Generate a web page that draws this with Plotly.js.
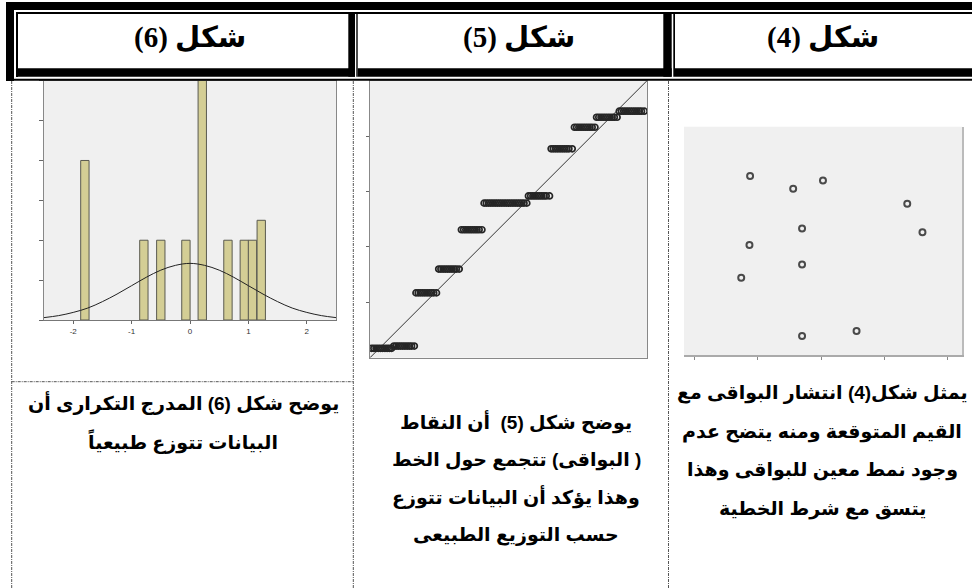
<!DOCTYPE html>
<html><head><meta charset="utf-8">
<script src="https://cdn.plot.ly/plotly-3.0.1.min.js"></script>
<style>html,body{margin:0;padding:0;background:#fff;} #chart{width:972px;height:588px;}</style>
</head><body><div id="chart"></div>
<script>
// ---------- Data: Figure 6 (histogram of residuals) ----------
const histCenters = [-1.80, -0.79, -0.50, -0.07, 0.21, 0.65, 0.93, 1.07, 1.22];
const histCounts  = [4, 2, 2, 2, 7, 2, 2, 2, 2.5];
const histBinWidth = 0.143;
const normalX = [-2.5,-2.25,-2,-1.75,-1.5,-1.25,-1,-0.75,-0.5,-0.25,0,0.25,0.5,0.75,1,1.25,1.5,1.75,2,2.25,2.5];
const normalY = [0.06,0.11,0.19,0.30,0.46,0.65,0.86,1.07,1.25,1.37,1.42,1.37,1.25,1.07,0.86,0.65,0.46,0.30,0.19,0.11,0.06];
const histTickVals = [-2, -1, 0, 1, 2];
const histTickText = ['-2', '-1', '0', '1', '2'];

// ---------- Data: Figure 5 (normal P-P / Q-Q plot) ----------
const qqRunY = [0.17, 0.21, 1.17, 1.60, 2.31, 2.79, 2.92, 3.77, 4.16, 4.34, 4.45];
const qqRunX = [
  [0.03,0.07,0.11,0.15,0.19,0.23,0.27,0.31,0.35,0.39],
  [0.43,0.47,0.51,0.55,0.59,0.63,0.67,0.71,0.75,0.80],
  [0.83,0.87,0.91,0.95,0.99,1.03,1.07,1.11,1.15,1.20],
  [1.24,1.28,1.32,1.36,1.40,1.44,1.48,1.52,1.56,1.61],
  [1.65,1.69,1.73,1.77,1.81,1.85,1.89,1.93,1.97,2.02],
  [2.06,2.10,2.14,2.18,2.22,2.26,2.30,2.34,2.38,2.42,2.46,2.50,2.54,2.58,2.62,2.66,2.70,2.74,2.78,2.83],
  [2.86,2.90,2.94,2.98,3.02,3.06,3.10,3.14,3.18,3.24],
  [3.27,3.31,3.35,3.39,3.43,3.47,3.51,3.55,3.59,3.65],
  [3.69,3.73,3.77,3.81,3.85,3.89,3.93,3.97,4.01,4.06],
  [4.09,4.13,4.17,4.21,4.25,4.29,4.33,4.37,4.41,4.46],
  [4.50,4.54,4.58,4.62,4.66,4.70,4.74,4.78,4.82,4.86,4.90,4.95]
];
const qqLineX = [0, 5];
const qqLineY = [0, 5];
const qqTickVals = [1, 2, 3, 4];

// ---------- Data: Figure 4 (residuals vs predicted) ----------
const resX = [0.88, 1.56, 2.03, 3.36, 1.70, 3.60, 0.87, 1.70, 0.74, 1.70, 2.56];
const resY = [2.83, 2.63, 2.76, 2.39, 2.00, 1.94, 1.74, 1.43, 1.22, 0.30, 0.38];
const resTickVals = [0, 1, 2, 3, 4];

// ---------- Texts ----------
const headerTexts = ['شكل (6)', 'شكل (5)', 'شكل (4)'];
const col1Lines = ['يوضح شكل (6) المدرج التكرارى أن', 'البيانات تتوزع طبيعياً'];
const col2Lines = ['يوضح شكل (5)\u00A0\u00A0أن النقاط', '( البواقى) تتجمع حول الخط', 'وهذا يؤكد أن البيانات تتوزع', 'حسب التوزيع الطبيعى'];
const col3Lines = ['يمثل شكل(4) انتشار البواقى مع', 'القيم المتوقعة ومنه يتضح عدم', 'وجود نمط معين للبواقى وهذا', 'يتسق مع شرط الخطية'];

// ---------- Build ----------
const W = 972, H = 588;
const fx = p => p / W;
const fy = p => 1 - p / H;
const RLM = '\u200F';

const qqX = [], qqY = [];
qqRunX.forEach((xs, i) => xs.forEach(x => { qqX.push(x); qqY.push(qqRunY[i]); }));

const traces = [
  { type: 'bar', x: histCenters, y: histCounts, width: histBinWidth, xaxis: 'x', yaxis: 'y',
    marker: { color: '#d4ce95', line: { color: '#5a5a50', width: 1 } }, hoverinfo: 'skip' },
  { type: 'scatter', mode: 'lines', x: normalX, y: normalY, xaxis: 'x', yaxis: 'y',
    line: { color: '#222', width: 1, shape: 'spline' }, hoverinfo: 'skip' },
  { type: 'scatter', mode: 'lines', x: qqLineX, y: qqLineY, xaxis: 'x2', yaxis: 'y2',
    line: { color: '#333', width: 1 }, hoverinfo: 'skip' },
  { type: 'scatter', mode: 'markers', x: qqX, y: qqY, xaxis: 'x2', yaxis: 'y2',
    marker: { symbol: 'circle-open', size: 6, color: '#262626', line: { width: 1.7 } }, hoverinfo: 'skip' },
  { type: 'scatter', mode: 'markers', x: resX, y: resY, xaxis: 'x3', yaxis: 'y3',
    marker: { symbol: 'circle-open', size: 6, color: '#4a4a4a', line: { width: 2 } }, hoverinfo: 'skip' }
];

const axBase = { showgrid: false, zeroline: false, fixedrange: true };

function rect(x0, y0, x1, y1, c) {
  return { type: 'rect', xref: 'paper', yref: 'paper', x0: fx(x0), x1: fx(x1), y0: fy(y0), y1: fy(y1),
           fillcolor: c, line: { width: 0 }, layer: 'above' };
}
function dotted(x0, y0, x1, y1) {
  return { type: 'line', xref: 'paper', yref: 'paper', x0: fx(x0), x1: fx(x1), y0: fy(y0), y1: fy(y1),
           line: { color: '#555', width: 1, dash: '3px,1px,1px,1px' }, layer: 'above' };
}

const shapes = [
  rect(6, 2, 972, 10, '#000'),
  rect(6, 2, 14, 81, '#000'),
  rect(16, 12, 972, 14, '#000'),
  rect(16, 12, 18, 77, '#000'),
  rect(16, 68.3, 355, 76.7, '#000'),
  rect(357.7, 68.3, 671.7, 76.7, '#000'),
  rect(675, 68.3, 972, 76.7, '#000'),
  rect(6, 78.7, 972, 80.7, '#000'),
  rect(348.3, 12, 355, 76.7, '#000'),
  rect(356.3, 12, 357.7, 76.7, '#000'),
  rect(663.3, 12, 671.7, 76.7, '#000'),
  rect(673.3, 12, 675, 76.7, '#000'),
  dotted(11.7, 81, 11.7, 588),
  dotted(353.3, 81, 353.3, 588),
  dotted(668.5, 81, 668.5, 588),
  dotted(11.7, 381.7, 353.3, 381.7)
];

const annotations = [];
const hdrX = [190, 519, 823];
headerTexts.forEach((t, i) => annotations.push({
  xref: 'paper', yref: 'paper', x: fx(hdrX[i]), y: fy(38), xanchor: 'center', yanchor: 'middle',
  text: '<b>' + RLM + t + RLM + '</b>', showarrow: false,
  font: { family: "'Times New Roman', 'Liberation Serif', 'DejaVu Sans', serif", size: 29, color: '#000' }
}));
function addLines(lines, cx, ys) {
  lines.forEach((t, i) => annotations.push({
    xref: 'paper', yref: 'paper', x: fx(cx), y: fy(ys[i]), xanchor: 'center', yanchor: 'middle',
    text: '<b>' + RLM + t + RLM + '</b>', showarrow: false,
    font: { family: "Arial, 'Liberation Sans', 'DejaVu Sans', sans-serif", size: 19, color: '#000' }
  }));
}
addLines(col1Lines, 183, [403, 441.7]);
addLines(col2Lines, 516, [421.7, 459.5, 497, 535]);
addLines(col3Lines, 822, [393, 432, 470, 509]);

const layout = {
  width: W, height: H, margin: { l: 0, r: 0, t: 0, b: 0 },
  paper_bgcolor: '#fff', plot_bgcolor: '#f0f0f0', showlegend: false,
  xaxis: Object.assign({}, axBase, { domain: [fx(44), fx(336)], range: [-2.5, 2.5], anchor: 'y',
    showline: true, mirror: true, linecolor: '#777', linewidth: 1,
    tickmode: 'array', tickvals: histTickVals, ticktext: histTickText, ticks: 'outside', ticklen: 3,
    tickcolor: '#666', tickfont: { family: 'Arial, Liberation Sans, sans-serif', size: 8, color: '#333' } }),
  yaxis: Object.assign({}, axBase, { domain: [fy(320), fy(80.7)], range: [0, 6], anchor: 'x',
    showline: true, mirror: true, linecolor: '#888', linewidth: 1,
    tickmode: 'linear', tick0: 0, dtick: 1, ticks: 'outside', ticklen: 4, tickcolor: '#666', showticklabels: false }),
  xaxis2: Object.assign({}, axBase, { domain: [fx(370), fx(647)], range: [0, 5], anchor: 'y2',
    showline: true, mirror: true, linecolor: '#888', linewidth: 1, ticks: '', showticklabels: false }),
  yaxis2: Object.assign({}, axBase, { domain: [fy(357.7), fy(80.7)], range: [0, 5], anchor: 'x2',
    showline: true, mirror: true, linecolor: '#888', linewidth: 1,
    tickmode: 'array', tickvals: qqTickVals, ticks: 'outside', ticklen: 3, tickcolor: '#666', showticklabels: false }),
  xaxis3: Object.assign({}, axBase, { domain: [fx(684), fx(962)], range: [-0.163, 4.224], anchor: 'y3',
    showline: true, linecolor: '#aaa', linewidth: 2,
    tickmode: 'array', tickvals: resTickVals, ticks: 'outside', ticklen: 3, tickcolor: '#888', showticklabels: false }),
  yaxis3: Object.assign({}, axBase, { domain: [fy(355), fy(126.7)], range: [0, 3.61], anchor: 'x3', side: 'right',
    showline: true, linecolor: '#bbb', linewidth: 2, ticks: '', showticklabels: false }),
  shapes: shapes,
  annotations: annotations
};

Plotly.newPlot('chart', traces, layout, { staticPlot: true, displayModeBar: false });
</script>
</body></html>
